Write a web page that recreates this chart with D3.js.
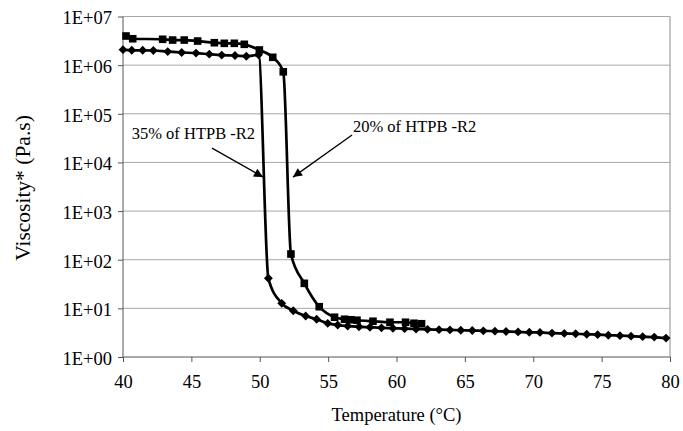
<!DOCTYPE html>
<html>
<head>
<meta charset="utf-8">
<script src="https://cdn.jsdelivr.net/npm/d3@7"></script>
<style>
  html, body { margin: 0; padding: 0; background: #fff; }
  svg { display: block; }
  text { font-family: "Liberation Serif", "Times New Roman", serif; fill: #000; }
</style>
</head>
<body>
<svg id="chart" width="683" height="431"></svg>
<script>
// ---- data ----
// 20% of HTPB -R2 (square markers)
const temp20 = [40.22, 40.71, 42.90, 43.63, 44.48, 45.46, 46.68, 47.41, 48.14, 48.87, 49.97, 50.95, 51.72,
                52.28, 53.26, 54.35, 55.47, 56.20, 56.67, 57.11, 58.28, 59.52, 60.66, 61.28, 61.83];
const visc20 = [3.97e6, 3.49e6, 3.40e6, 3.28e6, 3.28e6, 3.13e6, 2.89e6, 2.81e6, 2.81e6, 2.68e6, 2.05e6, 1.45e6, 7.3e5,
                131, 32.7, 10.8, 6.56, 5.97, 5.83, 5.7, 5.43, 5.18, 5.18, 4.94, 4.83];
// 35% of HTPB -R2 (diamond markers)
const temp35 = [40.0, 40.64, 41.44, 42.22, 43.27, 44.29, 45.34, 46.31, 47.22, 48.19, 49.02, 49.91,
                50.63, 51.61, 52.45, 53.36, 54.16, 54.97, 55.70, 56.43, 57.26, 58.06, 58.90, 59.74, 60.59,
                61.43, 62.27, 63.11, 63.91, 64.70, 65.54, 66.35, 67.20, 68.01, 68.89, 69.71, 70.49, 71.37,
                72.27, 73.10, 73.91, 74.71, 75.49, 76.34, 77.15, 78.00, 78.85, 79.71];
const visc35 = [2.08e6, 2.02e6, 2.02e6, 2.0e6, 1.90e6, 1.82e6, 1.77e6, 1.68e6, 1.61e6, 1.58e6, 1.52e6, 1.63e6,
                41.5, 12.7, 8.95, 6.95, 5.96, 4.92, 4.54, 4.33, 4.18, 4.08, 3.98, 3.90, 3.82,
                3.76, 3.70, 3.65, 3.60, 3.55, 3.50, 3.45, 3.40, 3.34, 3.28, 3.22, 3.20, 3.10,
                3.05, 3.00, 2.93, 2.88, 2.80, 2.75, 2.68, 2.62, 2.57, 2.45];

const xTicks = [40, 45, 50, 55, 60, 65, 70, 75, 80];
const yTicks = [1e0, 1e1, 1e2, 1e3, 1e4, 1e5, 1e6, 1e7];
const yTickLabels = ["1E+00", "1E+01", "1E+02", "1E+03", "1E+04", "1E+05", "1E+06", "1E+07"];

const xTitle = "Temperature (°C)";
const yTitle = "Viscosity* (Pa.s)";

// annotations: label text position and arrow (from -> to) in data space
const annLabels = ["35% of HTPB -R2", "20% of HTPB -R2"];
const annTextT = [40.64, 56.82];
const annTextV = [2.97e4, 4.14e4];
const annFromT = [46.51, 56.75];
const annFromV = [1.97e4, 3.65e4];
const annToT = [50.24, 52.43];
const annToV = [4.99e3, 4.99e3];

// ---- layout ----
const svg = d3.select("#chart");
const pLeft = 123, pRight = 670, pTop = 16.5, pBottom = 357;

const x = d3.scaleLinear().domain([40, 80]).range([pLeft, pRight]);
const y = d3.scaleLog().domain([1, 1e7]).range([pBottom, pTop]);

// gridlines
svg.append("g").selectAll("line").data(yTicks.slice(1)).join("line")
  .attr("x1", pLeft).attr("x2", pRight)
  .attr("y1", d => y(d)).attr("y2", d => y(d))
  .attr("stroke", "#a8a8a8").attr("stroke-width", 1);

// right border
svg.append("line").attr("x1", pRight).attr("x2", pRight).attr("y1", pTop).attr("y2", pBottom)
  .attr("stroke", "#8c8c8c").attr("stroke-width", 1);

// y axis
const yAxis = d3.axisLeft(y).tickValues(yTicks).tickFormat((d, i) => yTickLabels[i]).tickSize(5).tickPadding(6);
const gy = svg.append("g").attr("transform", `translate(${pLeft},0)`).call(yAxis);
gy.select(".domain").attr("stroke", "#555").attr("d", `M-0,${pTop}V${pBottom}`);
gy.selectAll(".tick line").attr("stroke", "#555");
gy.selectAll(".tick text").attr("font-size", 18.5).attr("font-family", "Liberation Serif").attr("fill", "#000").attr("dy", "0.4em");

// x axis
const xAxis = d3.axisBottom(x).tickValues(xTicks).tickFormat(d3.format("d")).tickSize(5).tickPadding(13);
const gx = svg.append("g").attr("transform", `translate(0,${pBottom})`).call(xAxis);
gx.select(".domain").attr("stroke", "#555").attr("d", `M${pLeft},0H${pRight}`);
gx.selectAll(".tick line").attr("stroke", "#555");
gx.selectAll(".tick text").attr("font-size", 18.5).attr("font-family", "Liberation Serif").attr("fill", "#000");

// axis titles
svg.append("text").attr("x", (pLeft + pRight) / 2).attr("y", 421)
  .attr("text-anchor", "middle").attr("font-size", 18.5).text(xTitle);
svg.append("text").attr("transform", `translate(30,188) rotate(-90)`)
  .attr("text-anchor", "middle").attr("font-size", 21.5).text(yTitle);

// series
const line = d3.line().x(d => x(d[0])).y(d => y(d[1])).curve(d3.curveMonotoneX);
const s20 = temp20.map((t, i) => [t, visc20[i]]);
const s35 = temp35.map((t, i) => [t, visc35[i]]);

svg.append("path").datum(s35).attr("d", line).attr("fill", "none").attr("stroke", "#000").attr("stroke-width", 2.7);
svg.append("path").datum(s20).attr("d", line).attr("fill", "none").attr("stroke", "#000").attr("stroke-width", 2.7);

svg.append("g").selectAll("path").data(s35).join("path")
  .attr("transform", d => `translate(${x(d[0])},${y(d[1])})`)
  .attr("d", d3.symbol(d3.symbolDiamond2, 50)).attr("fill", "#000");
svg.append("g").selectAll("rect").data(s20).join("rect")
  .attr("x", d => x(d[0]) - 3.8).attr("y", d => y(d[1]) - 3.8)
  .attr("width", 7.6).attr("height", 7.6).attr("fill", "#000");

// annotations
svg.append("defs").append("marker").attr("id", "arrow")
  .attr("viewBox", "0 0 10 10").attr("refX", 10).attr("refY", 5)
  .attr("markerWidth", 11).attr("markerHeight", 9).attr("markerUnits", "userSpaceOnUse")
  .attr("orient", "auto")
  .append("path").attr("d", "M0,0L10,5L0,10Z").attr("fill", "#000");

annLabels.forEach((lab, i) => {
  svg.append("text").attr("x", x(annTextT[i])).attr("y", y(annTextV[i]))
    .attr("font-size", 16.5).text(lab);
  svg.append("line")
    .attr("x1", x(annFromT[i])).attr("y1", y(annFromV[i]))
    .attr("x2", x(annToT[i])).attr("y2", y(annToV[i]))
    .attr("stroke", "#000").attr("stroke-width", 1.3).attr("marker-end", "url(#arrow)");
});
</script>
</body>
</html>
